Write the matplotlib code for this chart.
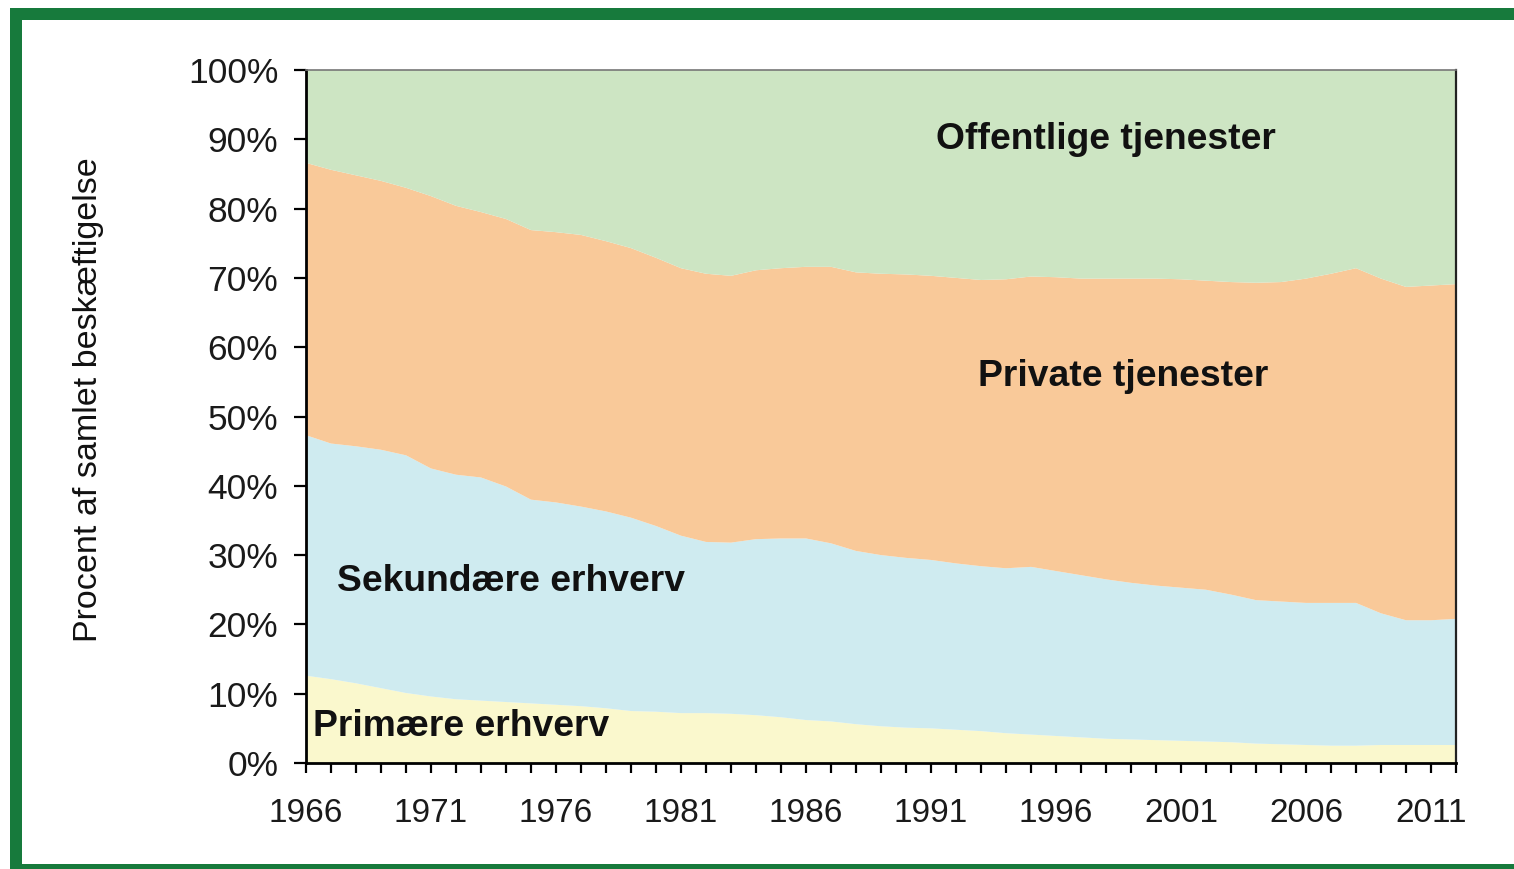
import matplotlib
matplotlib.use("Agg")
import matplotlib.pyplot as plt
from matplotlib.patches import Rectangle
from matplotlib.ticker import MultipleLocator, FixedLocator, FuncFormatter
import numpy as np

plt.rcParams['font.family'] = ['Liberation Sans', 'DejaVu Sans']

years = list(range(1966, 2013))

primaere = [12.6, 12.1, 11.5, 10.8, 10.1, 9.6, 9.2, 9.0, 8.8, 8.6,
            8.4, 8.2, 7.9, 7.5, 7.4, 7.2, 7.2, 7.1, 6.9, 6.6,
            6.2, 6.0, 5.6, 5.3, 5.1, 5.0, 4.8, 4.6, 4.3, 4.1,
            3.9, 3.7, 3.5, 3.4, 3.3, 3.2, 3.1, 3.0, 2.8, 2.7,
            2.6, 2.5, 2.5, 2.6, 2.6, 2.6, 2.6]

sekundaere = [34.7, 34.0, 34.2, 34.4, 34.3, 32.9, 32.4, 32.2, 31.1, 29.4,
              29.2, 28.8, 28.4, 27.9, 26.8, 25.6, 24.7, 24.7, 25.4, 25.8,
              26.2, 25.7, 25.0, 24.7, 24.5, 24.3, 24.0, 23.8, 23.8, 24.2,
              23.8, 23.4, 23.0, 22.6, 22.3, 22.1, 21.9, 21.3, 20.7, 20.6,
              20.5, 20.6, 20.6, 19.0, 18.0, 18.0, 18.2]

private = [39.3, 39.5, 39.1, 38.8, 38.6, 39.3, 38.8, 38.3, 38.6, 38.9,
           39.0, 39.2, 39.0, 38.9, 38.7, 38.6, 38.7, 38.5, 38.8, 39.0,
           39.2, 39.9, 40.2, 40.6, 40.9, 41.0, 41.2, 41.3, 41.7, 41.9,
           42.4, 42.8, 43.4, 43.9, 44.3, 44.5, 44.6, 45.1, 45.8, 46.1,
           46.8, 47.5, 48.3, 48.3, 48.1, 48.3, 48.3]

offentlige = [13.4, 14.4, 15.2, 16.0, 17.0, 18.2, 19.6, 20.5, 21.5, 23.1,
              23.4, 23.8, 24.7, 25.7, 27.1, 28.6, 29.4, 29.7, 28.9, 28.6,
              28.4, 28.4, 29.2, 29.4, 29.5, 29.7, 30.0, 30.3, 30.2, 29.8,
              29.9, 30.1, 30.1, 30.1, 30.1, 30.2, 30.4, 30.6, 30.7, 30.6,
              30.1, 29.4, 28.6, 30.1, 31.3, 31.1, 30.9]

series_labels = ["Primære erhverv", "Sekundære erhverv",
                 "Private tjenester", "Offentlige tjenester"]
colors = ["#FAF8CD", "#CFEBF0", "#F9C999", "#CDE5C3"]
x_tick_labels = [str(y) for y in range(1966, 2012, 5)]
y_ticks = list(range(0, 101, 10))

W, H = 1514, 869
fig = plt.figure(figsize=(W / 100, H / 100), dpi=100)
fig.patch.set_facecolor("white")

GREEN = "#177A3C"


def px_rect(x0, y0, x1, y1):
    """Filled rectangle given in pixel coords measured from the top-left."""
    fig.patches.append(Rectangle((x0 / W, 1 - y1 / H), (x1 - x0) / W,
                                 (y1 - y0) / H, transform=fig.transFigure,
                                 facecolor=GREEN, edgecolor="none", zorder=0))


# green frame (left, top, bottom bars)
px_rect(10, 8, 22, H)
px_rect(10, 8, W, 20)
px_rect(10, 864, W, H)

ax = fig.add_axes([306 / W, 1 - 763 / H, (1456 - 306) / W, (763 - 70) / H])

ax.stackplot(years, primaere, sekundaere, private, offentlige,
             colors=colors, linewidth=0)

ax.set_xlim(1966, 2012)
ax.set_ylim(0, 100)

ax.xaxis.set_major_locator(FixedLocator([int(v) for v in x_tick_labels]))
ax.xaxis.set_minor_locator(MultipleLocator(1))
ax.set_xticklabels(x_tick_labels)
ax.set_yticks(y_ticks)
ax.yaxis.set_major_formatter(FuncFormatter(lambda v, p: f"{int(v)}%"))

ax.tick_params(axis="x", which="both", direction="out", length=7, width=1.6,
               labelsize=24, pad=18, colors="black")
ax.tick_params(axis="y", which="major", direction="out", length=9, width=1.6,
               labelsize=25.5, pad=11, colors="black")
for lab in ax.get_xticklabels() + ax.get_yticklabels():
    lab.set_color("#1a1a1a")

ax.spines["left"].set_linewidth(2)
ax.spines["bottom"].set_linewidth(2)
ax.spines["top"].set_linewidth(1.2)
ax.spines["top"].set_color("#777777")
ax.spines["right"].set_linewidth(1.6)
ax.spines["right"].set_color("#222222")

fig.text(89 / W, 1 - 400 / H, "Procent af samlet beskæftigelse",
         rotation=90, ha="center", va="center", fontsize=24.5, color="#111111")

label_pos = [(1972.2, 5.2), (1974.2, 26.2), (1998.7, 55.8), (1998.0, 89.9)]
for name, (lx, ly) in zip(series_labels, label_pos):
    ax.text(lx, ly, name, ha="center", va="center", fontsize=26.8,
            fontweight="bold", color="#111111")

fig.savefig("out.png", dpi=100)
